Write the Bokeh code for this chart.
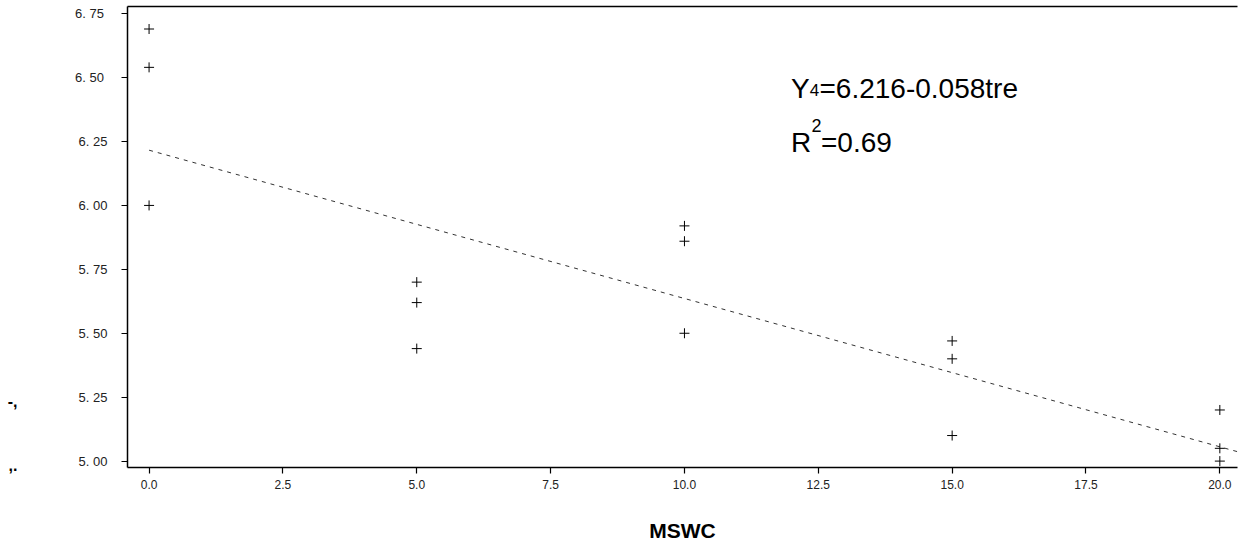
from bokeh.plotting import figure
from bokeh.models import Range1d, FixedTicker, LinearAxis, Label
from bokeh.embed import file_html
from bokeh.resources import INLINE

# ---- data ----
mswc = [0, 0, 0, 5, 5, 5, 10, 10, 10, 15, 15, 15, 20, 20, 20]
y4 = [6.69, 6.54, 6.00, 5.70, 5.62, 5.44, 5.92, 5.86, 5.50, 5.47, 5.40, 5.10, 5.20, 5.05, 5.00]
fit_intercept = 6.216
fit_slope = -0.058
x_ticks = [0, 2.5, 5, 7.5, 10, 12.5, 15, 17.5, 20]
x_tick_labels = ["0.0", "2.5", "5.0", "7.5", "10.0", "12.5", "15.0", "17.5", "20.0"]
y_ticks = [5.0, 5.25, 5.5, 5.75, 6.0, 6.25, 6.5, 6.75]
y_tick_labels = ["5. 00", "5. 25", "5. 50", "5. 75", "6. 00", "6. 25", "6.  50", "6.  75"]
mark_pos = [5.237, 4.985]
mark_text = ["-,", ",."]

X0, X1 = -0.403, 20.33
Y0, Y1 = 4.975, 6.778
FONT = "Liberation Sans"

p = figure(width=1241, height=552, x_range=Range1d(X0, X1), y_range=Range1d(Y0, Y1),
           output_backend="svg", toolbar_location=None,
           min_border_left=127, min_border_right=4, min_border_top=6, min_border_bottom=85)
p.outline_line_color = None
p.xgrid.visible = False
p.ygrid.visible = False
p.background_fill_color = "white"
p.border_fill_color = "white"

# regression line (dashed)
fx = [0, X1]
fy = [fit_intercept + fit_slope * v for v in fx]
p.line(fx, fy, line_color="#333333", line_width=1, line_dash="4 5")

# observations
p.scatter(mswc, y4, marker="cross", size=10, line_color="black", line_width=1)

# axes styling
for ax, ticks, labels in ((p.xaxis[0], x_ticks, x_tick_labels), (p.yaxis[0], y_ticks, y_tick_labels)):
    ax.ticker = FixedTicker(ticks=ticks)
    ax.major_label_overrides = {t: l for t, l in zip(ticks, labels)}
    ax.minor_tick_line_color = None
    ax.major_tick_in = 0
    ax.major_tick_out = 6
    ax.axis_line_width = 1.5
    ax.major_tick_line_width = 1.2
    ax.major_label_text_font = FONT
    ax.major_label_text_color = "#222222"

p.xaxis.major_label_text_font_size = "12px"
p.yaxis.major_label_text_font_size = "13px"
p.xaxis.major_label_standoff = 6
p.yaxis.major_label_standoff = 14
p.xaxis.axis_label = "MSWC"
p.xaxis.axis_label_text_font = FONT
p.xaxis.axis_label_text_font_style = "bold"
p.xaxis.axis_label_text_font_size = "21px"
p.xaxis.axis_label_standoff = 27
p.xaxis.axis_label_text_color = "black"

# top frame line
top = LinearAxis(ticker=FixedTicker(ticks=[]), axis_line_width=1.5,
                 major_tick_line_color=None, minor_tick_line_color=None,
                 major_label_text_font_size="0px")
p.add_layout(top, "above")

# stray scan marks at far left (as an extra unlined axis)
marks = LinearAxis(ticker=FixedTicker(ticks=mark_pos),
                   major_label_overrides={t: s for t, s in zip(mark_pos, mark_text)},
                   axis_line_color=None, major_tick_line_color=None, minor_tick_line_color=None,
                   major_label_text_font=FONT, major_label_text_font_style="bold",
                   major_label_text_font_size="16px", major_label_text_color="black",
                   major_label_standoff=48)
p.add_layout(marks, "left")

# equation annotation
ax0 = 11.99
b1 = 6.4575
b2 = 6.246
FS = "28px"
C = "black"
p.add_layout(Label(x=ax0, y=b1, text="Y", text_font=FONT, text_font_size=FS, text_color=C, text_baseline="alphabetic"))
p.add_layout(Label(x=ax0, y=b1, x_offset=18.7, y_offset=-2, text="4", text_font=FONT, text_font_size="17px", text_color=C, text_baseline="alphabetic"))
p.add_layout(Label(x=ax0, y=b1, x_offset=28.5, text="=6.216-0.058tre", text_font=FONT, text_font_size=FS, text_color=C, text_baseline="alphabetic"))
p.add_layout(Label(x=ax0, y=b2, text="R", text_font=FONT, text_font_size=FS, text_color=C, text_baseline="alphabetic"))
p.add_layout(Label(x=ax0, y=b2, x_offset=20.5, y_offset=17, text="2", text_font=FONT, text_font_size="18px", text_color=C, text_baseline="alphabetic"))
p.add_layout(Label(x=ax0, y=b2, x_offset=30, text="=0.69", text_font=FONT, text_font_size=FS, text_color=C, text_baseline="alphabetic"))

open("out.html", "w").write(file_html(p, INLINE))
